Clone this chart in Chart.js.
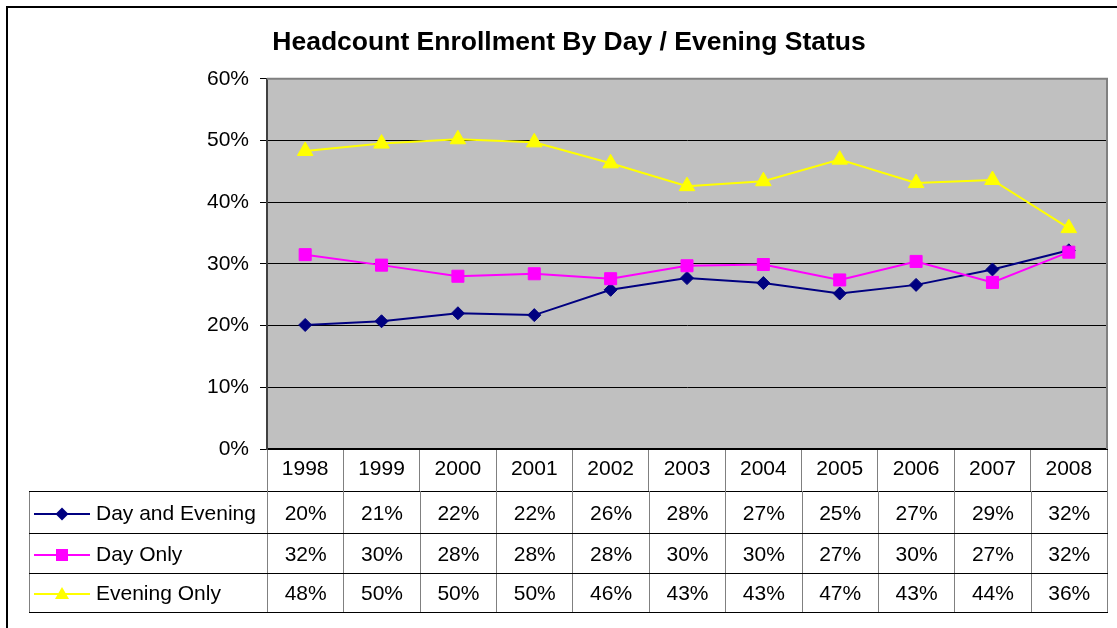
<!DOCTYPE html>
<html>
<head>
<meta charset="utf-8">
<script src="https://cdn.jsdelivr.net/npm/chart.js"></script>
<style>
body { margin: 0; background: #fff; overflow: hidden; font-family: "Liberation Sans", Arial, sans-serif; }
#wrap { position: relative; width: 1117px; height: 628px; overflow: hidden; }
#frame { position: absolute; left: 6px; top: 6px; width: 1200px; height: 700px; border: 2px solid #000; }
#grafico_status { position: absolute; left: 0; top: 0; }
#tabela_status { position: absolute; border-collapse: collapse; table-layout: fixed; font-size: 21px; color: #000; }
#tabela_status td { padding: 0; text-align: center; white-space: nowrap;
    border-top: 1px solid #000; border-bottom: 1px solid #000;
    border-left: 1px solid #808080; border-right: 1px solid #808080; }
#tabela_status td.serie { text-align: left; padding-left: 4px; }
#tabela_status td.serie svg { vertical-align: middle; margin-right: 6px; }
</style>
</head>
<body>
<div id="wrap">
  <div id="frame"></div>
  <canvas id="grafico_status" width="1117" height="628"></canvas>
  <table id="tabela_status"></table>
</div>
<script>
const anos = ['1998', '1999', '2000', '2001', '2002', '2003', '2004', '2005', '2006', '2007', '2008'];
const dia_e_noite = [20.1, 20.7, 22.0, 21.7, 25.8, 27.7, 26.9, 25.2, 26.6, 29.1, 32.2];
const so_dia = [31.5, 29.8, 28.0, 28.4, 27.6, 29.7, 29.9, 27.4, 30.4, 27.0, 31.9];
const so_noite = [48.3, 49.5, 50.2, 49.7, 46.3, 42.6, 43.4, 46.9, 43.1, 43.6, 35.8];
const nomes_series = ['Day and Evening', 'Day Only', 'Evening Only'];

const fonte = '"Liberation Sans", Arial, sans-serif';
const cores = ['#000080', '#FF00FF', '#FFFF00'];
const marcadores = ['rectRot', 'rect', 'triangle'];
const raios = [6.5, 8.5, 9];

// fundo cinza e borda da area do grafico
const plugin_area = {
    id: 'plugin_area',
    beforeDraw(chart) {
        const a = chart.chartArea;
        const ctx = chart.ctx;
        ctx.save();
        ctx.fillStyle = '#C0C0C0';
        ctx.fillRect(a.left, a.top, a.width, a.height);
        ctx.restore();
    },
    beforeDatasetsDraw(chart) {
        const a = chart.chartArea;
        const ctx = chart.ctx;
        ctx.save();
        ctx.strokeStyle = '#808080';
        ctx.lineWidth = 2;
        ctx.beginPath();
        ctx.moveTo(a.left, a.top);
        ctx.lineTo(a.right, a.top);
        ctx.lineTo(a.right, a.bottom);
        ctx.stroke();
        ctx.restore();
    }
};

const valores = [dia_e_noite, so_dia, so_noite];

const data_status = {
    labels: anos,
    datasets: valores.map((v, i) => ({
        label: nomes_series[i],
        data: v,
        borderColor: cores[i],
        backgroundColor: cores[i],
        borderWidth: 2,
        pointStyle: marcadores[i],
        pointRadius: raios[i],
        pointBorderWidth: 1,
        pointBackgroundColor: cores[i],
        pointBorderColor: cores[i],
        tension: 0,
        order: 3 - i
    }))
};

const config_status = {
    type: 'line',
    data: data_status,
    plugins: [plugin_area],
    options: {
        responsive: false,
        animation: false,
        layout: { padding: { left: 31, right: 10, top: 0, bottom: 0 } },
        plugins: {
            legend: { display: false },
            tooltip: { enabled: false },
            title: {
                display: true,
                text: 'Headcount Enrollment By Day / Evening Status',
                color: '#000',
                font: { family: fonte, size: 26.5, weight: 'bold' },
                padding: { top: 27, bottom: 20 }
            }
        },
        scales: {
            x: {
                offset: true,
                afterFit: (s) => { s.height = 179; },
                grid: { offset: true, drawOnChartArea: false, tickLength: 42, color: '#808080', lineWidth: 1 },
                border: { display: true, color: '#000', width: 2 },
                ticks: { color: '#000', font: { family: fonte, size: 21 }, padding: -34, maxRotation: 0, autoSkip: false }
            },
            y: {
                min: 0,
                max: 60,
                afterFit: (s) => { s.width = 236; },
                grid: { color: '#000', lineWidth: 1, tickLength: 7, tickColor: '#000' },
                border: { display: true, color: '#404040', width: 2 },
                ticks: {
                    stepSize: 10,
                    color: '#000',
                    padding: 11,
                    font: { family: fonte, size: 21 },
                    callback: (v) => v + '%'
                }
            }
        }
    }
};

const grafico_status = new Chart(
    document.getElementById('grafico_status'),
    config_status
);

// tabela de dados abaixo do eixo x
function icone(i) {
    const c = cores[i];
    let m = '';
    if (marcadores[i] === 'rectRot') m = `<polygon points="28,3.5 34.5,10 28,16.5 21.5,10" fill="${c}"/>`;
    else if (marcadores[i] === 'rect') m = `<rect x="22" y="4" width="12" height="12" fill="${c}"/>`;
    else m = `<polygon points="28,3 35,15 21,15" fill="${c}"/>`;
    return `<svg width="56" height="20"><line x1="0" y1="10" x2="56" y2="10" stroke="${c}" stroke-width="2"/>${m}</svg>`;
}

const area = grafico_status.chartArea;
const largura_col = area.width / anos.length;
const tabela = document.getElementById('tabela_status');
const esquerda = 29;
tabela.style.left = esquerda + 'px';
tabela.style.top = (area.bottom + 42) + 'px';
const alturas = [42, 40, 39];
let html = `<colgroup><col style="width:${area.left - esquerda}px">`;
anos.forEach(() => { html += `<col style="width:${largura_col}px">`; });
html += '</colgroup>';
valores.forEach((serie, i) => {
    html += `<tr style="height:${alturas[i]}px"><td class="serie">${icone(i)}${nomes_series[i]}</td>`;
    serie.forEach((v) => { html += `<td>${Math.round(v)}%</td>`; });
    html += '</tr>';
});
tabela.innerHTML = html;
tabela.style.width = (area.right - esquerda) + 'px';
</script>
</body>
</html>
